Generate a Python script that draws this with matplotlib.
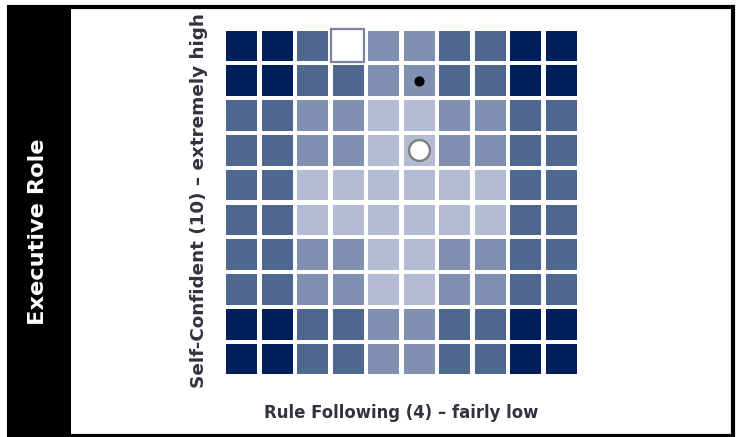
import numpy as np
import matplotlib.pyplot as plt
from matplotlib.patches import Rectangle

# shade level per cell, row 0 = top row
levels = [
    [0, 0, 1, 1, 2, 2, 1, 1, 0, 0],
    [0, 0, 1, 1, 2, 2, 1, 1, 0, 0],
    [1, 1, 2, 2, 3, 3, 2, 2, 1, 1],
    [1, 1, 2, 2, 3, 3, 2, 2, 1, 1],
    [1, 1, 3, 3, 3, 3, 3, 3, 1, 1],
    [1, 1, 3, 3, 3, 3, 3, 3, 1, 1],
    [1, 1, 2, 2, 3, 3, 2, 2, 1, 1],
    [1, 1, 2, 2, 3, 3, 2, 2, 1, 1],
    [0, 0, 1, 1, 2, 2, 1, 1, 0, 0],
    [0, 0, 1, 1, 2, 2, 1, 1, 0, 0],
]
shades = ["#00205b", "#4f668f", "#8090b0", "#b3bcd2"]

highlight_cell = (3, 0)   # (col, row)
dot_cell = (5, 1)
circle_cell = (5, 3)

role = "Executive Role"
xlabel = "Rule Following (4) \u2013 fairly low"
ylabel = "Self-Confident (10) \u2013 extremely high"

W, H = 736, 437
fig = plt.figure(figsize=(W / 100, H / 100), dpi=100)

# outer frame and black side panel
fig.patches.append(Rectangle((9 / W, 1 - 436 / H), 724 / W, 429 / H, transform=fig.transFigure,
                             facecolor="white", edgecolor="black", linewidth=3, zorder=-2))
fig.patches.append(Rectangle((9 / W, 1 - 436 / H), 62 / W, 429 / H, transform=fig.transFigure,
                             facecolor="black", edgecolor="none", zorder=-1))
fig.text(38 / W, 1 - 232 / H, role, rotation=90, color="white", fontsize=16.2,
         fontweight="bold", ha="center", va="center")

ax = fig.add_axes([224 / W, 1 - 376.5 / H, 355 / W, 348 / H])
ax.set_zorder(2)
ax.patch.set_visible(False)
n = len(levels)
g = 0.115  # white gap between cells, in cell units
for r in range(n):
    for c in range(n):
        ax.add_patch(Rectangle((c + g / 2, r + g / 2), 1 - g, 1 - g,
                               facecolor=shades[levels[r][c]], edgecolor="none"))

hc, hr = highlight_cell
ax.add_patch(Rectangle((hc + 0.0, hr + 0.0), 0.94, 0.95, facecolor="white",
                       edgecolor="#7d84a2", linewidth=1.6, zorder=3, clip_on=False))
ax.plot(dot_cell[0] + 0.5, dot_cell[1] + 0.5, "o", color="black", markersize=6.3, zorder=4)
ax.plot(circle_cell[0] + 0.5, circle_cell[1] + 0.5, "o", markerfacecolor="white",
        markeredgecolor="#7a7a7a", markeredgewidth=1.6, markersize=15, zorder=4)

ax.set_xlim(0, n)
ax.set_ylim(n, 0)
ax.set_xticks([])
ax.set_yticks([])
for s in ax.spines.values():
    s.set_visible(False)

fig.text(401 / W, 1 - 413 / H, xlabel, fontsize=11.9, fontweight="bold", color="#33333f",
         ha="center", va="center")
fig.text(199 / W, 1 - 201 / H, ylabel, fontsize=13.2, fontweight="bold", color="#33333f",
         rotation=90, ha="center", va="center")

fig.savefig("out.png", dpi=100)
